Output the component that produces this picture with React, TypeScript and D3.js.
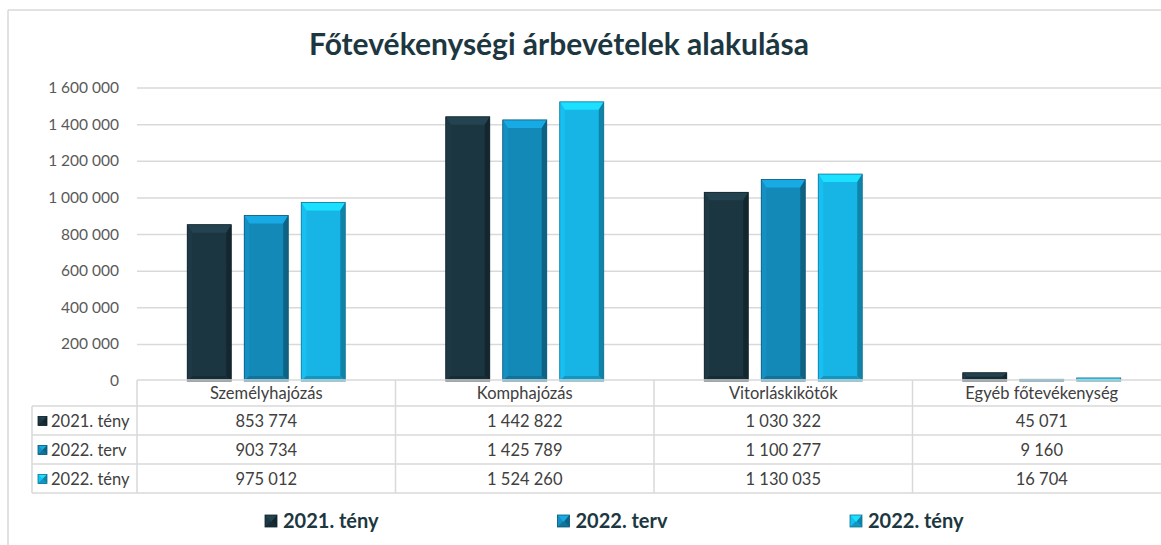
import React from "react";
import * as d3 from "d3";

const categories = ["Személyhajózás", "Komphajózás", "Vitorláskikötők", "Egyéb főtevékenység"];
const seriesNames = ["2021. tény", "2022. terv", "2022. tény"];
const teny2021 = [853774, 1442822, 1030322, 45071];
const terv2022 = [903734, 1425789, 1100277, 9160];
const teny2022 = [975012, 1524260, 1130035, 16704];
const seriesValues = [teny2021, terv2022, teny2022];
const seriesColors = ["#1c3641", "#1389b8", "#17b5e6"];
const yTicks = [0, 200000, 400000, 600000, 800000, 1000000, 1200000, 1400000, 1600000];

const W = 1161;
const H = 545;
const plotLeft = 137;
const catW = 258.5;
const zeroY = 381;
const topY = 88;
const headerTop = 380;
const rowH = 29;
const headerH = 26;
const legendColLeft = 32;
const grid = "#d9d9d9";
const font = "Lato, 'Open Sans', sans-serif";

const locale = d3.formatLocale({ thousands: " ", grouping: [3], decimal: ",", currency: ["", ""] });
const fmt = locale.format(",d");

// bar with a bevelled look
const Bevel = ({ x, y, w, h, color }: { x: number; y: number; w: number; h: number; color: string }) => {
  if (h <= 0) return null;
  const c = d3.color(color)!;
  const b = Math.min(5, w / 2, h / 2);
  const bt = Math.min(8, h / 2);
  const bb = Math.min(5, h / 2);
  const pts = (p: number[][]) => p.map((q) => q.join(",")).join(" ");
  return (
    <g>
      <rect x={x} y={y} width={w} height={h} fill={color} />
      <polygon
        points={pts([[x, y], [x + w, y], [x + w - b, y + bt], [x + b, y + bt]])}
        fill={c.brighter(0.6).toString()}
      />
      <polygon
        points={pts([[x, y], [x + b, y + bt], [x + b, y + h - bb], [x, y + h]])}
        fill={c.brighter(0.15).toString()}
      />
      <polygon
        points={pts([[x + w, y], [x + w - b, y + bt], [x + w - b, y + h - bb], [x + w, y + h]])}
        fill={c.darker(0.9).toString()}
      />
      <polygon
        points={pts([[x, y + h], [x + b, y + h - bb], [x + w - b, y + h - bb], [x + w, y + h]])}
        fill={c.darker(0.5).toString()}
      />
      <rect x={x} y={y} width={w} height={h} fill="none" stroke={c.darker(1.2).toString()} strokeWidth={0.8} />
    </g>
  );
};

const App = () => {
  const xCat = d3.scaleBand<string>().domain(categories).range([plotLeft, plotLeft + catW * categories.length]);
  const xSer = d3.scaleBand<string>().domain(seriesNames).range([0, 158]).paddingInner(0.228);
  const groupOffset = (catW - 158) / 2;
  const y = d3.scaleLinear().domain([0, 1600000]).range([zeroY, topY]);
  const legendX = d3.scalePoint<string>().domain(seriesNames).range([265, 850]);
  const right = plotLeft + catW * categories.length;
  const tableBottom = headerTop + headerH + rowH * seriesNames.length;

  return (
    <div style={{ position: "fixed", left: 0, top: 0 }}>
      <svg width={W} height={H} style={{ display: "block", background: "#fff" }}>
        {/* outer frame */}
        <line x1={8} x2={W} y1={10} y2={10} stroke={grid} strokeWidth={1.5} />
        <line x1={8} x2={8} y1={10} y2={H} stroke={grid} strokeWidth={1.5} />

        <text x={559} y={55} textAnchor="middle" fontFamily={font} fontWeight={700} fontSize={30} fill="#1d3741">
          Főtevékenységi árbevételek alakulása
        </text>

        {/* gridlines + y labels */}
        {yTicks.map((t) => (
          <g key={t}>
            {t > 0 && <line x1={plotLeft} x2={right} y1={y(t)} y2={y(t)} stroke={grid} strokeWidth={1.5} />}
            <text x={119} y={y(t) + 5} textAnchor="end" fontFamily={font} fontSize={15.5} fill="#595959">
              {fmt(t)}
            </text>
          </g>
        ))}

        {/* bars */}
        {categories.map((cat, ci) =>
          seriesNames.map((s, si) => {
            const v = seriesValues[si][ci];
            const bx = xCat(cat)! + groupOffset + xSer(s)!;
            return (
              <Bevel key={cat + s} x={bx} y={y(v)} w={xSer.bandwidth()} h={zeroY - y(v)} color={seriesColors[si]} />
            );
          })
        )}

        {/* data table */}
        <line x1={plotLeft} x2={W} y1={headerTop} y2={headerTop} stroke={grid} strokeWidth={1.5} />
        {seriesNames.map((s, si) => (
          <line
            key={"h" + s}
            x1={legendColLeft}
            x2={W}
            y1={headerTop + headerH + rowH * si}
            y2={headerTop + headerH + rowH * si}
            stroke={grid}
            strokeWidth={1.5}
          />
        ))}
        <line x1={legendColLeft} x2={W} y1={tableBottom} y2={tableBottom} stroke={grid} strokeWidth={1.5} />
        <line x1={legendColLeft} x2={legendColLeft} y1={headerTop + headerH} y2={tableBottom} stroke={grid} strokeWidth={1.5} />
        {categories.map((cat) => (
          <line key={"v" + cat} x1={xCat(cat)!} x2={xCat(cat)!} y1={headerTop} y2={tableBottom} stroke={grid} strokeWidth={1.5} />
        ))}
        {categories.map((cat) => (
          <text
            key={"c" + cat}
            x={xCat(cat)! + catW / 2}
            y={headerTop + headerH / 2 + 6}
            textAnchor="middle"
            fontFamily={font}
            fontSize={16.5}
            fill="#404040"
          >
            {cat}
          </text>
        ))}
        {seriesNames.map((s, si) => {
          const rowMid = headerTop + headerH + rowH * si + rowH / 2;
          return (
            <g key={"r" + s}>
              <Bevel x={38} y={rowMid - 4} w={9} h={9} color={seriesColors[si]} />
              <text x={51} y={rowMid + 6} fontFamily={font} fontSize={16.5} fill="#404040">
                {s}
              </text>
              {categories.map((cat, ci) => (
                <text
                  key={cat}
                  x={xCat(cat)! + catW / 2}
                  y={rowMid + 6}
                  textAnchor="middle"
                  fontFamily={font}
                  fontSize={16.5}
                  fill="#404040"
                >
                  {fmt(seriesValues[si][ci])}
                </text>
              ))}
            </g>
          );
        })}

        {/* bottom legend */}
        {seriesNames.map((s, si) => (
          <g key={"l" + s}>
            <Bevel x={legendX(s)!} y={515} w={12} h={12} color={seriesColors[si]} />
            <text x={legendX(s)! + 18} y={528} fontFamily={font} fontWeight={700} fontSize={20} fill="#1d3741">
              {s}
            </text>
          </g>
        ))}
      </svg>
    </div>
  );
};

export default App;
